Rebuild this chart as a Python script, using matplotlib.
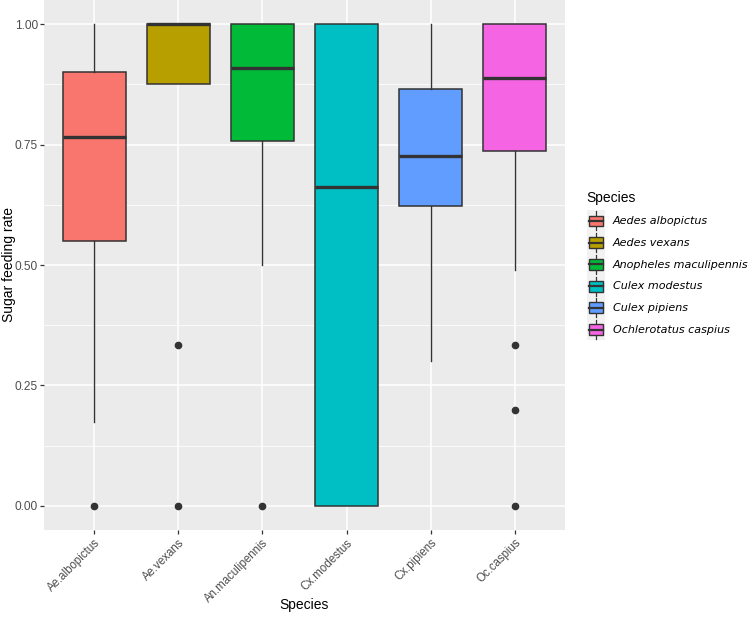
import matplotlib

matplotlib.use("Agg")
import matplotlib.pyplot as plt
from matplotlib.legend_handler import HandlerBase
from matplotlib.lines import Line2D
from matplotlib.patches import Patch, Rectangle

SPECIES = ["Ae.albopictus", "Ae.vexans", "An.maculipennis", "Cx.modestus", "Cx.pipiens", "Oc.caspius"]
LEGEND_NAMES = [
    "Aedes albopictus",
    "Aedes vexans",
    "Anopheles maculipennis",
    "Culex modestus",
    "Culex pipiens",
    "Ochlerotatus caspius",
]
WHISKER_LOW = [0.174, 0.875, 0.50, 0.0, 0.301, 0.49]
Q1 = [0.549, 0.875, 0.758, 0.0, 0.623, 0.737]
MEDIAN = [0.766, 1.0, 0.909, 0.662, 0.727, 0.889]
Q3 = [0.900, 1.0, 1.0, 1.0, 0.866, 1.0]
WHISKER_HIGH = [1.0, 1.0, 1.0, 1.0, 1.0, 1.0]
OUTLIERS = [[0.0], [0.333, 0.0], [0.0], [], [], [0.333, 0.2, 0.0]]
Y_TICKS = [0.0, 0.25, 0.50, 0.75, 1.0]
Y_TICK_LABELS = ["0.00", "0.25", "0.50", "0.75", "1.00"]

COLORS = ["#F8766D", "#B79F00", "#00BA38", "#00BFC4", "#619CFF", "#F564E3"]
LINE = "#333333"
PANEL = "#EBEBEB"


class BoxKey(HandlerBase):
    # ggplot-like boxplot legend key: grey square, whisker line, small box, median
    def create_artists(self, legend, orig_handle, xdescent, ydescent, width, height, fontsize, trans):
        x0, y0 = -xdescent, -ydescent
        cx = x0 + width / 2
        bg = Rectangle((x0, y0), width, height, fc="#F2F2F2", ec="none", transform=trans)
        whisk = Line2D([cx, cx], [y0 + 1, y0 + height - 1], color=LINE, lw=0.9, transform=trans)
        bh = height * 0.5
        by = y0 + (height - bh) / 2
        box = Rectangle(
            (x0 + 1.5, by), width - 3, bh, fc=orig_handle.get_facecolor(), ec=LINE, lw=1.0, transform=trans
        )
        med = Line2D([x0 + 1.5, x0 + width - 1.5], [by + bh / 2] * 2, color=LINE, lw=1.6, transform=trans)
        return [bg, whisk, box, med]


fig = plt.figure(figsize=(7.49, 6.18), dpi=100)
ax = fig.add_axes([44 / 749, 88 / 618, 521 / 749, 530 / 618])
ax.set_facecolor(PANEL)

positions = list(range(1, len(SPECIES) + 1))
stats = []
for i, name in enumerate(SPECIES):
    stats.append(
        {
            "label": name,
            "whislo": WHISKER_LOW[i],
            "q1": Q1[i],
            "med": MEDIAN[i],
            "q3": Q3[i],
            "whishi": WHISKER_HIGH[i],
            "fliers": OUTLIERS[i],
        }
    )

bp = ax.bxp(
    stats,
    positions=positions,
    widths=0.75,
    patch_artist=True,
    showcaps=False,
    boxprops={"edgecolor": LINE, "linewidth": 1.1},
    whiskerprops={"color": LINE, "linewidth": 1.0},
    medianprops={"color": LINE, "linewidth": 2.4, "solid_capstyle": "butt"},
    flierprops={"marker": "o", "markerfacecolor": LINE, "markeredgecolor": LINE, "markersize": 4.5},
    zorder=3,
)
for patch, color in zip(bp["boxes"], COLORS):
    patch.set_facecolor(color)

ax.set_xlim(0.4, len(SPECIES) + 0.6)
ax.set_ylim(-0.05, 1.05)
ax.set_xticks(positions)
ax.set_xticklabels(SPECIES, rotation=45, ha="right", rotation_mode="anchor", fontsize=8.3,
                   family="Liberation Sans", color="#4D4D4D")
ax.set_yticks(Y_TICKS)
ax.set_yticklabels(Y_TICK_LABELS, fontsize=8.6, family="Liberation Sans", color="#4D4D4D")
ax.set_yticks([0.125, 0.375, 0.625, 0.875], minor=True)
ax.tick_params(axis="both", which="major", length=3, width=0.9, color=LINE)
ax.tick_params(axis="y", which="major", pad=1.5)
ax.tick_params(axis="x", which="major", pad=2)
ax.tick_params(axis="y", which="minor", length=0)
ax.grid(True, which="major", color="white", linewidth=1.1, zorder=0)
ax.grid(True, which="minor", axis="y", color="white", linewidth=0.55, zorder=0)
ax.set_axisbelow(True)
for spine in ax.spines.values():
    spine.set_visible(False)

ax.set_xlabel("Species", fontsize=10, family="Liberation Sans")
ax.set_ylabel("Sugar feeding rate", fontsize=10, family="Liberation Sans")
ax.xaxis.set_label_coords(0.5, -(598 - 530) / 530)
ax.yaxis.set_label_coords(-(44 - 2) / 521, 0.5)
ax.yaxis.label.set_va("top")

handles = [Patch(facecolor=c, label=n) for c, n in zip(COLORS, LEGEND_NAMES)]
leg = fig.legend(
    handles=handles,
    title="Species",
    loc="upper left",
    bbox_to_anchor=(581 / 749, 1 - 185 / 618),
    frameon=False,
    borderpad=0,
    labelspacing=0,
    handlelength=1.65,
    handleheight=2.63,
    handletextpad=0.7,
    alignment="left",
    handler_map={Patch: BoxKey()},
    prop={"family": "DejaVu Sans", "style": "italic", "size": 8},
    title_fontproperties={"family": "Liberation Sans", "size": 10},
)
leg._legend_box.sep = 4  # a little room under the legend title, as in ggplot

fig.savefig("out.png", dpi=100, facecolor="white")
